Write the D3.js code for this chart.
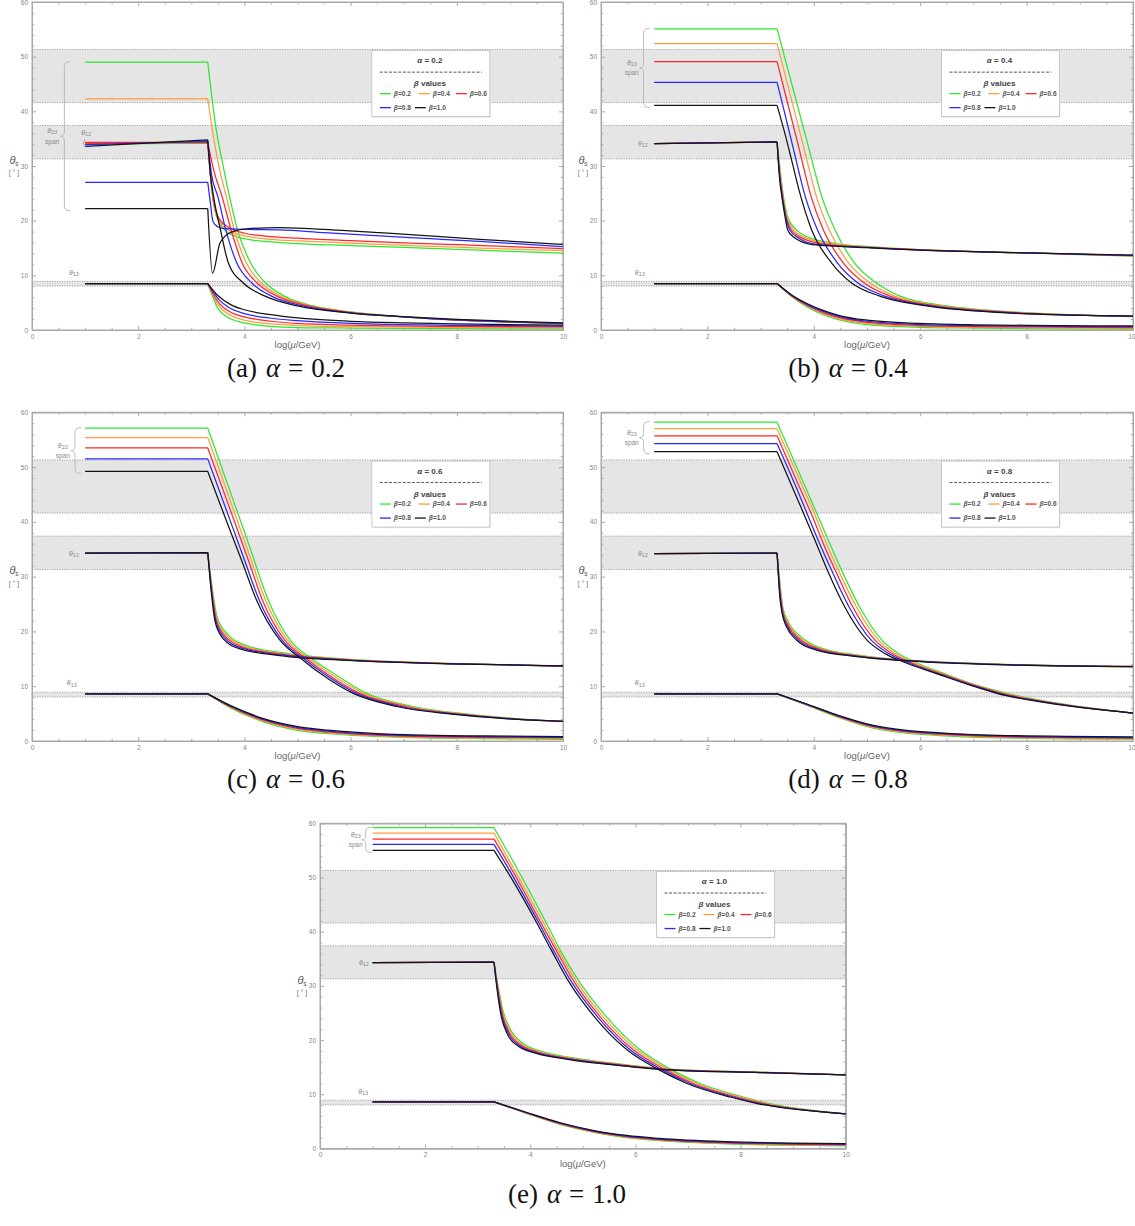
<!DOCTYPE html>
<html>
<head>
<meta charset="utf-8">
<script src="https://cdn.jsdelivr.net/npm/d3@7"></script>
<style>
  body { margin: 0; background: #fff; }
  svg { display: block; }
  text { font-family: "Liberation Sans", Arial, sans-serif; }
</style>
</head>
<body>
<svg id="fig" width="1135" height="1226"></svg>
<script>
// ---------- data ----------
const alphaValues = [0.2, 0.4, 0.6, 0.8, 1.0];
const panelTags = ["(a)", "(b)", "(c)", "(d)", "(e)"];
const betaLabels = ["β=0.2", "β=0.4", "β=0.6", "β=0.8", "β=1.0"];
const xTickValues = [0, 2, 4, 6, 8, 10];
const yTickValues = [0, 10, 20, 30, 40, 50, 60];

// experimental ranges (degrees)
const theta23Band = [41.6, 51.3];
const theta12Band = [31.3, 37.4];
const theta13Band = [8.05, 8.9];

// running angles vs log(mu/GeV); each list is ordered beta = 0.2, 0.4, 0.6, 0.8, 1.0
// alpha = 0.2
const th23_a02 = [
  [[1,49.0],[3.31,49.0],[3.47,36.6],[3.59,30.5],[3.72,24.4],[3.87,18.3],[4.12,12.2],[4.4,8.6],[4.75,6.2],[5.3,4.4],[6,3.3],[7,2.4],[8,1.8],[9,1.45],[10,1.15]],
  [[1,42.3],[3.31,42.3],[3.45,33.5],[3.55,28.6],[3.66,24.4],[3.81,18.3],[4.04,12.2],[4.32,8.6],[4.68,6.2],[5.25,4.4],[6,3.25],[7,2.4],[8,1.8],[9,1.45],[10,1.15]],
  [[1,34.3],[3.31,34.3],[3.42,29.3],[3.58,24.4],[3.75,18.3],[3.96,12.2],[4.24,8.6],[4.61,6.2],[5.2,4.4],[6,3.2],[7,2.4],[8,1.82],[9,1.47],[10,1.18]],
  [[1,27.0],[3.31,27.0],[3.36,23.2],[3.41,19.8],[3.5,18.9],[3.6,18.6],[4.0,18.4],[4.67,18.3],[5.5,17.8],[6.55,17.2],[7.5,16.7],[8.43,16.2],[10,15.25]],
  [[1,22.2],[3.31,22.2],[3.40,10.4],[3.54,15.9],[3.73,17.8],[4.04,18.5],[4.67,18.75],[5.3,18.5],[6.55,17.8],[8.43,16.6],[10,15.65]]
];
const th12_a02 = [
  [[1,34.0],[3.31,34.2],[3.37,27.0],[3.44,22.0],[3.55,19.2],[3.7,17.8],[4.0,16.7],[4.5,16.1],[5,15.8],[6,15.45],[7,15.1],[8,14.75],[9,14.4],[10,14.05]],
  [[1,34.05],[3.31,34.3],[3.37,27.2],[3.44,22.3],[3.55,19.6],[3.7,18.3],[4.0,17.2],[4.5,16.6],[5,16.3],[6,15.9],[7,15.5],[8,15.15],[9,14.8],[10,14.5]],
  [[1,34.2],[3.31,34.3],[3.37,27.4],[3.44,22.6],[3.55,20.0],[3.7,18.8],[4.0,17.7],[4.5,17.1],[5,16.8],[6,16.35],[7,15.95],[8,15.6],[9,15.25],[10,14.9]],
  [[1,33.9],[3.31,34.5],[3.38,28.5],[3.5,24.4],[3.65,18.3],[3.86,12.2],[4.14,8.6],[4.51,6.2],[5.1,4.4],[6,3.15],[7,2.4],[8,1.85],[9,1.5],[10,1.22]],
  [[1,33.6],[3.31,34.8],[3.36,28.5],[3.42,24.4],[3.55,18.3],[3.7,12.2],[3.98,8.6],[4.39,6.2],[5.0,4.4],[6,3.1],[7,2.45],[8,1.95],[9,1.6],[10,1.32]]
];
const th13_a02 = [
  [[1,8.5],[3.31,8.5],[3.5,4.0],[3.75,2.0],[4,1.3],[4.5,0.65],[5,0.45],[6,0.35],[8,0.25],[10,0.2]],
  [[1,8.5],[3.31,8.5],[3.5,4.7],[3.75,2.6],[4,1.8],[4.5,1.1],[5,0.8],[6,0.6],[8,0.45],[10,0.4]],
  [[1,8.5],[3.31,8.5],[3.5,5.2],[3.75,3.2],[4,2.4],[4.5,1.6],[5,1.2],[6,0.9],[8,0.65],[10,0.55]],
  [[1,8.5],[3.31,8.5],[3.5,5.8],[3.75,3.9],[4,3.0],[4.5,2.15],[5,1.7],[6,1.2],[8,0.85],[10,0.72]],
  [[1,8.5],[3.31,8.5],[3.5,6.3],[3.75,4.6],[4,3.7],[4.5,2.8],[5,2.2],[6,1.6],[7,1.3],[8,1.1],[10,0.9]]
];

// alpha = 0.4
const th23_a04 = [
  [[1,55.1],[3.31,55.1],[3.6,44.5],[3.9,33.5],[4.15,24.4],[4.4,18.3],[4.77,12.2],[5.18,8.6],[5.62,6.2],[6.5,4.4],[7.75,3.3],[8.8,2.8],[10,2.45]],
  [[1,52.4],[3.31,52.4],[3.55,43.3],[3.8,33.8],[4.05,24.4],[4.29,18.3],[4.66,12.2],[5.06,8.6],[5.52,6.2],[6.4,4.4],[7.65,3.3],[8.72,2.8],[10,2.47]],
  [[1,49.1],[3.31,49.1],[3.5,41.8],[3.7,34.1],[3.95,24.4],[4.18,18.3],[4.56,12.2],[4.95,8.6],[5.43,6.2],[6.3,4.4],[7.55,3.3],[8.65,2.8],[10,2.5]],
  [[1,45.3],[3.31,45.3],[3.45,39.8],[3.62,33.0],[3.84,24.4],[4.07,18.3],[4.45,12.2],[4.83,8.6],[5.33,6.2],[6.2,4.4],[7.42,3.3],[8.58,2.8],[10,2.52]],
  [[1,41.1],[3.31,41.1],[3.45,36.2],[3.58,31.2],[3.73,25.3],[3.96,18.3],[4.34,12.2],[4.71,8.6],[5.24,6.2],[6.12,4.4],[7.3,3.3],[8.5,2.8],[10,2.55]]
];
const th12_a04 = [
  [[1,34.1],[3.31,34.4],[3.37,29.0],[3.43,24.4],[3.5,21.0],[3.67,18.3],[3.86,17.1],[4.36,15.9],[5.11,15.2],[6,14.7],[8,14.1],[10,13.5]],
  [[1,34.1],[3.31,34.4],[3.37,28.6],[3.42,24.4],[3.48,21.1],[3.62,18.3],[3.81,17.0],[4.3,15.8],[5.1,15.15],[6,14.68],[8,14.1],[10,13.55]],
  [[1,34.1],[3.31,34.4],[3.36,28.3],[3.415,24.4],[3.47,21.1],[3.58,18.3],[3.76,16.9],[4.2,15.7],[5.05,15.1],[6,14.65],[8,14.1],[10,13.6]],
  [[1,34.1],[3.31,34.4],[3.36,28.1],[3.405,24.4],[3.46,21.2],[3.55,18.3],[3.72,16.8],[4.1,15.6],[5,15.1],[6,14.62],[8,14.1],[10,13.65]],
  [[1,34.1],[3.31,34.4],[3.355,27.9],[3.40,24.4],[3.45,21.3],[3.51,18.3],[3.62,17.0],[3.98,15.6],[4.48,15.3],[5,15.05],[6,14.6],[8,14.1],[10,13.7]]
];
const th13_a04 = [
  [[1,8.5],[3.31,8.5],[3.6,6.0],[3.9,4.1],[4.2,2.7],[4.5,1.8],[5,1.0],[6,0.5],[7,0.35],[8,0.25],[10,0.15]],
  [[1,8.5],[3.31,8.5],[3.6,6.1],[3.9,4.25],[4.2,2.9],[4.5,2.0],[5,1.2],[6,0.65],[7,0.48],[8,0.4],[10,0.3]],
  [[1,8.5],[3.31,8.5],[3.6,6.15],[3.9,4.4],[4.2,3.1],[4.5,2.2],[5,1.4],[6,0.82],[7,0.62],[8,0.55],[10,0.45]],
  [[1,8.5],[3.31,8.5],[3.6,6.2],[3.9,4.55],[4.2,3.3],[4.5,2.4],[5,1.6],[6,1.0],[7,0.78],[8,0.7],[10,0.6]],
  [[1,8.5],[3.31,8.5],[3.6,6.3],[3.9,4.7],[4.2,3.5],[4.5,2.6],[5,1.8],[6,1.2],[7,0.95],[8,0.85],[10,0.75]]
];

// alpha = 0.6
const th23_a06 = [
  [[1,57.1],[3.31,57.1],[3.7,46.4],[4.1,35.4],[4.45,25.7],[4.86,18.4],[5.3,14.8],[5.67,12.4],[6.3,8.7],[7.18,6.3],[8.2,4.9],[9.1,4.1],[10,3.6]],
  [[1,55.4],[3.31,55.4],[3.7,44.8],[4.1,33.8],[4.4,25.7],[4.81,18.4],[5.25,14.8],[5.6,12.4],[6.24,8.7],[7.1,6.3],[8.12,4.9],[9.05,4.1],[10,3.6]],
  [[1,53.5],[3.31,53.5],[3.7,43.1],[4.1,32.3],[4.34,25.7],[4.76,18.4],[5.2,14.8],[5.53,12.4],[6.17,8.7],[7.03,6.3],[8.05,4.9],[9.0,4.1],[10,3.6]],
  [[1,51.5],[3.31,51.5],[3.7,41.1],[4.0,33.1],[4.28,25.7],[4.71,18.4],[5.15,14.8],[5.48,12.4],[6.11,8.7],[6.95,6.3],[7.98,4.9],[8.95,4.1],[10,3.6]],
  [[1,49.2],[3.31,49.2],[3.7,39.2],[3.95,32.9],[4.23,25.7],[4.67,18.4],[5.1,14.8],[5.42,12.4],[6.05,8.7],[6.87,6.3],[7.9,4.9],[8.9,4.1],[10,3.6]]
];
const th12_a06 = [
  [[1,34.3],[3.31,34.4],[3.39,28.2],[3.49,22.5],[3.68,19.5],[4.04,17.4],[4.8,16.0],[6.0,14.9],[7.81,14.18],[10,13.62]],
  [[1,34.3],[3.31,34.4],[3.385,28.1],[3.48,22.3],[3.66,19.3],[4.01,17.25],[4.76,15.9],[5.99,14.85],[7.81,14.16],[10,13.64]],
  [[1,34.3],[3.31,34.4],[3.38,28.0],[3.47,22.1],[3.64,19.1],[3.98,17.1],[4.73,15.8],[5.97,14.8],[7.81,14.14],[10,13.66]],
  [[1,34.3],[3.31,34.4],[3.375,27.9],[3.46,21.9],[3.62,18.9],[3.95,16.95],[4.7,15.7],[5.95,14.75],[7.81,14.12],[10,13.68]],
  [[1,34.3],[3.31,34.4],[3.37,27.8],[3.45,21.7],[3.6,18.7],[3.92,16.8],[4.67,15.6],[5.93,14.7],[7.81,14.1],[10,13.7]]
];
const th13_a06 = [
  [[1,8.6],[3.31,8.6],[3.73,6.1],[4.36,3.5],[4.98,2.0],[5.93,1.1],[7.18,0.6],[8.5,0.43],[10,0.3]],
  [[1,8.6],[3.31,8.6],[3.73,6.2],[4.36,3.65],[4.98,2.17],[5.93,1.25],[7.18,0.72],[8.5,0.56],[10,0.43]],
  [[1,8.6],[3.31,8.6],[3.73,6.3],[4.36,3.8],[4.98,2.33],[5.93,1.4],[7.18,0.85],[8.5,0.68],[10,0.55]],
  [[1,8.6],[3.31,8.6],[3.73,6.4],[4.36,3.95],[4.98,2.5],[5.93,1.55],[7.18,0.97],[8.5,0.8],[10,0.68]],
  [[1,8.6],[3.31,8.6],[3.73,6.5],[4.36,4.1],[4.98,2.65],[5.93,1.7],[7.18,1.1],[8.5,0.92],[10,0.8]]
];

// alpha = 0.8
const th23_a08 = [
  [[1,58.2],[3.31,58.2],[3.7,49.5],[4.0,42.8],[4.27,36.7],[4.55,30.6],[4.86,24.5],[5.28,18.4],[5.58,16.0],[5.95,14.2],[6.43,12.4],[7.12,10.0],[7.63,8.7],[8.57,6.9],[10,5.1]],
  [[1,57.0],[3.31,57.0],[3.7,48.4],[4.0,41.8],[4.21,36.7],[4.49,30.6],[4.8,24.5],[5.22,18.4],[5.52,16.0],[5.9,14.2],[6.39,12.4],[7.09,10.0],[7.58,8.7],[8.54,6.9],[10,5.1]],
  [[1,55.7],[3.31,55.7],[3.7,47.0],[4.0,40.4],[4.15,36.7],[4.43,30.6],[4.73,24.5],[5.15,18.4],[5.46,16.0],[5.85,14.2],[6.35,12.4],[7.06,10.0],[7.53,8.7],[8.5,6.9],[10,5.1]],
  [[1,54.3],[3.31,54.3],[3.7,45.6],[4.08,36.7],[4.36,30.6],[4.66,24.5],[5.08,18.4],[5.4,16.0],[5.8,14.2],[6.31,12.4],[7.03,10.0],[7.48,8.7],[8.46,6.9],[10,5.1]],
  [[1,52.8],[3.31,52.8],[3.7,44.0],[4.02,36.7],[4.28,30.6],[4.58,24.5],[5.0,18.4],[5.33,16.0],[5.75,14.2],[6.28,12.4],[7.0,10.0],[7.44,8.7],[8.42,6.9],[10,5.1]]
];
const th12_a08 = [
  [[1,34.2],[3.31,34.3],[3.38,27.3],[3.42,24.3],[3.53,21.6],[3.76,19.0],[4.13,17.0],[4.89,15.6],[6.0,14.62],[7.63,13.98],[10,13.52]],
  [[1,34.2],[3.31,34.3],[3.375,27.1],[3.415,24.1],[3.52,21.4],[3.74,18.85],[4.11,16.9],[4.87,15.55],[6.0,14.59],[7.63,13.96],[10,13.54]],
  [[1,34.2],[3.31,34.3],[3.37,26.9],[3.41,23.9],[3.51,21.2],[3.72,18.7],[4.09,16.8],[4.85,15.5],[6.0,14.56],[7.63,13.94],[10,13.56]],
  [[1,34.2],[3.31,34.3],[3.365,26.7],[3.405,23.7],[3.5,21.0],[3.7,18.55],[4.07,16.7],[4.83,15.45],[6.0,14.53],[7.63,13.92],[10,13.58]],
  [[1,34.2],[3.31,34.3],[3.36,26.5],[3.4,23.5],[3.49,20.8],[3.68,18.4],[4.05,16.6],[4.81,15.4],[6.0,14.5],[7.63,13.9],[10,13.6]]
];
const th13_a08 = [
  [[1,8.6],[3.31,8.6],[3.87,6.55],[4.49,4.2],[5.12,2.35],[5.74,1.45],[6.37,1.0],[7.63,0.55],[10,0.32]],
  [[1,8.6],[3.31,8.6],[3.87,6.6],[4.49,4.3],[5.12,2.48],[5.74,1.58],[6.37,1.13],[7.63,0.66],[10,0.42]],
  [[1,8.6],[3.31,8.6],[3.87,6.65],[4.49,4.4],[5.12,2.6],[5.74,1.7],[6.37,1.25],[7.63,0.77],[10,0.52]],
  [[1,8.6],[3.31,8.6],[3.87,6.7],[4.49,4.5],[5.12,2.72],[5.74,1.82],[6.37,1.37],[7.63,0.88],[10,0.63]],
  [[1,8.6],[3.31,8.6],[3.87,6.75],[4.49,4.6],[5.12,2.85],[5.74,1.95],[6.37,1.5],[7.63,1.0],[10,0.75]]
];

// alpha = 1.0
const th23_a10 = [
  [[1,59.2],[3.31,59.2],[3.77,51.3],[4.31,41.5],[4.57,36.6],[4.95,30.5],[5.45,24.3],[6.09,18.2],[6.69,14.5],[7.23,12.0],[8.05,9.5],[8.55,8.3],[10,6.4]],
  [[1,58.2],[3.31,58.2],[3.73,50.9],[4.26,41.5],[4.53,36.6],[4.9,30.5],[5.39,24.3],[6.03,18.2],[6.63,14.5],[7.17,12.0],[7.99,9.5],[8.49,8.3],[10,6.4]],
  [[1,57.1],[3.31,57.1],[3.7,50.6],[4.21,41.5],[4.49,36.6],[4.85,30.5],[5.33,24.3],[5.96,18.2],[6.57,14.5],[7.1,12.0],[7.92,9.5],[8.43,8.3],[10,6.4]],
  [[1,56.1],[3.31,56.1],[3.66,50.4],[4.17,41.5],[4.44,36.6],[4.8,30.5],[5.28,24.3],[5.9,18.2],[6.51,14.5],[7.04,12.0],[7.86,9.5],[8.37,8.3],[10,6.4]],
  [[1,55.0],[3.31,55.0],[3.62,50.2],[4.13,41.5],[4.4,36.6],[4.75,30.5],[5.22,24.3],[5.84,18.2],[6.45,14.5],[6.98,12.0],[7.8,9.5],[8.32,8.3],[10,6.4]]
];
const th12_a10 = [
  [[1,34.3],[3.31,34.4],[3.38,30.4],[3.49,25.1],[3.62,22.0],[3.86,19.4],[4.18,18.0],[4.82,16.72],[5.58,15.74],[6.6,14.7],[8.37,14.08],[10,13.6]],
  [[1,34.3],[3.31,34.4],[3.375,30.3],[3.48,24.9],[3.605,21.8],[3.84,19.25],[4.16,17.9],[4.8,16.64],[5.56,15.68],[6.6,14.65],[8.37,14.06],[10,13.6]],
  [[1,34.3],[3.31,34.4],[3.37,30.2],[3.47,24.7],[3.59,21.6],[3.82,19.1],[4.14,17.8],[4.78,16.56],[5.54,15.62],[6.6,14.6],[8.37,14.04],[10,13.6]],
  [[1,34.3],[3.31,34.4],[3.365,30.1],[3.46,24.5],[3.575,21.4],[3.8,18.95],[4.12,17.7],[4.76,16.48],[5.52,15.56],[6.6,14.55],[8.37,14.02],[10,13.6]],
  [[1,34.3],[3.31,34.4],[3.36,30.0],[3.45,24.3],[3.56,21.2],[3.78,18.8],[4.1,17.6],[4.74,16.4],[5.5,15.5],[6.6,14.5],[8.37,14.0],[10,13.6]]
];
const th13_a10 = [
  [[1,8.6],[3.31,8.6],[3.95,6.4],[4.57,4.44],[5.19,3.0],[5.83,2.0],[6.46,1.45],[7.73,0.85],[9.0,0.6],[10,0.5]],
  [[1,8.6],[3.31,8.6],[3.95,6.45],[4.57,4.52],[5.19,3.08],[5.83,2.1],[6.46,1.55],[7.73,0.95],[9.0,0.69],[10,0.59]],
  [[1,8.6],[3.31,8.6],[3.95,6.5],[4.57,4.6],[5.19,3.17],[5.83,2.2],[6.46,1.65],[7.73,1.05],[9.0,0.78],[10,0.68]],
  [[1,8.6],[3.31,8.6],[3.95,6.55],[4.57,4.68],[5.19,3.26],[5.83,2.3],[6.46,1.75],[7.73,1.15],[9.0,0.88],[10,0.78]],
  [[1,8.6],[3.31,8.6],[3.95,6.6],[4.57,4.75],[5.19,3.35],[5.83,2.4],[6.46,1.85],[7.73,1.25],[9.0,0.98],[10,0.88]]
];

// ---------- styling & layout ----------
const betaColors = ["#2fe62f", "#ff9c3f", "#ff2727", "#2727ff", "#151515"];
const frameColor = "#a9a9a9";
const tickTextColor = "#858585";
const noteColor = "#8a8a8a";
const figWidth = 1135;

const panels = [
  { alpha: alphaValues[0], tag: panelTags[0], curves: [th23_a02, th12_a02, th13_a02],
    box: { x0: 32, x1: 563, yTop: 2, yBot: 330 }, caption: { x: 286, y: 377 },
    note: { braceX: 0.61, t23X: 0.38, t12: { x: 1.02, y: 35.7, anchor: "middle" }, t13X: 0.79, smallBrace: true } },
  { alpha: alphaValues[1], tag: panelTags[1], curves: [th23_a04, th12_a04, th13_a04],
    box: { x0: 601, x1: 1133, yTop: 2, yBot: 330 }, caption: { x: 848, y: 377 },
    note: { braceX: 0.80, t23X: 0.58, t12: { x: 0.88, anchor: "end" }, t13X: 0.73 } },
  { alpha: alphaValues[2], tag: panelTags[2], curves: [th23_a06, th12_a06, th13_a06],
    box: { x0: 32, x1: 563, yTop: 412.3, yBot: 741 }, caption: { x: 286, y: 788 },
    note: { braceX: 0.81, t23X: 0.58, t12: { x: 0.885, anchor: "end" }, t13X: 0.75 } },
  { alpha: alphaValues[3], tag: panelTags[3], curves: [th23_a08, th12_a08, th13_a08],
    box: { x0: 601, x1: 1133, yTop: 412.3, yBot: 741 }, caption: { x: 848, y: 788 },
    note: { braceX: 0.80, t23X: 0.58, t12: { x: 0.88, anchor: "end" }, t13X: 0.73 } },
  { alpha: alphaValues[4], tag: panelTags[4], curves: [th23_a10, th12_a10, th13_a10],
    box: { x0: 320, x1: 845.7, yTop: 823.3, yBot: 1148.5 }, caption: { x: 567, y: 1203 },
    note: { braceX: 0.87, t23X: 0.68, t12: { x: 0.93, anchor: "end" }, t13X: 0.82 } }
];

const svg = d3.select("#fig");

// flat segment is straight; the running part after the threshold is smooth
function curvePath(pts, xs, ys) {
  const straight = d3.line().x(d => xs(d[0])).y(d => ys(d[1]));
  const smooth = d3.line().x(d => xs(d[0])).y(d => ys(d[1])).curve(d3.curveMonotoneX);
  return straight(pts.slice(0, 2)) + smooth(pts.slice(1));
}

// vertical curly brace; tip points left
function bracePath(xs, yTop, yBot, hook, tip) {
  const ym = (yTop + yBot) / 2, r = Math.min(5, (yBot - yTop) / 6);
  return `M${xs + hook},${yTop} Q${xs},${yTop} ${xs},${yTop + r} L${xs},${ym - r} ` +
         `Q${xs},${ym} ${xs - tip},${ym} Q${xs},${ym} ${xs},${ym + r} ` +
         `L${xs},${yBot - r} Q${xs},${yBot} ${xs + hook},${yBot}`;
}

function drawPanel(p) {
  const { x0, x1, yTop, yBot } = p.box;
  const x = d3.scaleLinear().domain([0, 10]).range([x0, x1]);
  const y = d3.scaleLinear().domain([0, 60]).range([yBot, yTop]);
  const g = svg.append("g");

  // experimental bands
  [theta23Band, theta12Band, theta13Band].forEach(b => {
    g.append("rect").attr("x", x0).attr("width", x1 - x0)
      .attr("y", y(b[1])).attr("height", y(b[0]) - y(b[1]))
      .attr("fill", "#e5e5e5");
    b.forEach(v => g.append("line")
      .attr("x1", x0).attr("x2", x1).attr("y1", y(v)).attr("y2", y(v))
      .attr("stroke", "#9a9a9a").attr("stroke-width", 0.9).attr("stroke-dasharray", "1.2,1.3"));
  });

  // frame ticks on all sides
  const xMinor = d3.range(0, 10.001, 0.5).filter(v => !xTickValues.includes(v));
  const yMinor = d3.range(0, 60.001, 2).filter(v => !yTickValues.includes(v));
  const styleAxis = sel => {
    sel.selectAll("path.domain").attr("stroke", frameColor);
    sel.selectAll(".tick line").attr("stroke", frameColor);
    sel.selectAll(".tick text").attr("fill", tickTextColor).attr("font-size", 6.5);
  };
  const axes = [
    { gen: d3.axisBottom(x), t: `translate(0,${yBot})`, labels: true, major: xTickValues, minor: xMinor },
    { gen: d3.axisTop(x), t: `translate(0,${yTop})`, labels: false, major: xTickValues, minor: xMinor },
    { gen: d3.axisLeft(y), t: `translate(${x0},0)`, labels: true, major: yTickValues, minor: yMinor },
    { gen: d3.axisRight(y), t: `translate(${x1},0)`, labels: false, major: yTickValues, minor: yMinor }
  ];
  axes.forEach((a, ai) => {
    const major = a.gen.tickValues(a.major).tickSizeInner(-4).tickSizeOuter(0).tickPadding(4)
      .tickFormat(a.labels ? d3.format("d") : "");
    const ag = g.append("g").attr("transform", a.t).call(major).call(styleAxis);
    if (ai === 0 && x1 + 5 > figWidth) {
      // keep the last label inside the page
      ag.selectAll(".tick text").filter(d => d === 10).attr("text-anchor", "end").attr("dx", 2);
    }
    const minorGen = a.gen.tickValues(a.minor).tickSizeInner(-2.2).tickFormat("");
    g.append("g").attr("transform", a.t).call(minorGen).call(styleAxis);
  });
  g.append("rect").attr("x", x0).attr("y", yTop).attr("width", x1 - x0).attr("height", yBot - yTop)
    .attr("fill", "none").attr("stroke", frameColor).attr("stroke-width", 1);

  // curves, beta by beta so beta = 1.0 ends up on top
  betaColors.forEach((c, bi) => {
    p.curves.forEach(set => {
      g.append("path").attr("d", curvePath(set[bi], x, y))
        .attr("fill", "none").attr("stroke", c).attr("stroke-width", 1.25)
        .attr("stroke-linejoin", "round");
    });
  });

  // annotations
  const n = p.note;
  const flat23 = p.curves[0].map(c => c[0][1]);
  const top23 = y(d3.max(flat23) + 0.1), bot23 = y(d3.min(flat23) - 0.4);
  const bx = x(n.braceX);
  g.append("path").attr("d", bracePath(bx, top23, bot23, 6, 4))
    .attr("fill", "none").attr("stroke", "#b4b4b4").attr("stroke-width", 0.9);
  const tipY = (top23 + bot23) / 2;
  const sub = (sel, main, idx) => {
    sel.append("tspan").attr("font-style", "italic").text(main);
    sel.append("tspan").attr("font-size", 5.5).attr("dy", 1.2).text(idx);
  };
  const t23 = g.append("text").attr("x", x(n.t23X)).attr("y", tipY - 3)
    .attr("text-anchor", "middle").attr("font-size", 7).attr("fill", noteColor);
  sub(t23, "θ", "23");
  g.append("text").attr("x", x(n.t23X)).attr("y", tipY + 7.5)
    .attr("text-anchor", "middle").attr("font-size", 6.5).attr("fill", noteColor).text("span");

  const flat12 = p.curves[1][4][0][1];
  const t12y = n.t12.y !== undefined ? y(n.t12.y) : y(flat12) + 2.5;
  const t12 = g.append("text").attr("x", x(n.t12.x)).attr("y", t12y)
    .attr("text-anchor", n.t12.anchor).attr("font-size", 7).attr("fill", noteColor);
  sub(t12, "θ", "12");
  if (n.smallBrace) {
    const lo = y(d3.min(p.curves[1], c => c[0][1]) - 0.1), hi = y(d3.max(p.curves[1], c => c[0][1]) + 0.6);
    g.append("path").attr("d", bracePath(x(0.98), hi, lo, 1.5, 1.2))
      .attr("fill", "none").attr("stroke", "#a0a0a0").attr("stroke-width", 0.8);
  }
  const t13 = g.append("text").attr("x", x(n.t13X)).attr("y", y(10.5) + 2)
    .attr("text-anchor", "middle").attr("font-size", 7).attr("fill", noteColor);
  sub(t13, "θ", "13");

  // axis titles
  const yl = g.append("text").attr("x", x0 - 18).attr("y", y(30.4))
    .attr("text-anchor", "middle").attr("font-size", 11).attr("fill", "#555");
  yl.append("tspan").attr("font-style", "italic").text("θ");
  yl.append("tspan").attr("font-size", 6.5).attr("dy", 2).text("s");
  g.append("text").attr("x", x0 - 18).attr("y", y(28.3))
    .attr("text-anchor", "middle").attr("font-size", 7).attr("fill", "#777").text("[ ° ]");

  const xl = g.append("text").attr("x", (x0 + x1) / 2).attr("y", yBot + 18)
    .attr("text-anchor", "middle").attr("font-size", 9.5).attr("fill", "#666");
  xl.append("tspan").text("log(");
  xl.append("tspan").attr("font-style", "italic").text("μ");
  xl.append("tspan").text("/GeV)");

  // legend
  const lx = x(6.4), ly = y(51.1), lw = 118, lh = 66;
  const lg = g.append("g").attr("transform", `translate(${lx},${ly})`);
  lg.append("rect").attr("x", 1).attr("y", 1).attr("width", lw).attr("height", lh)
    .attr("fill", "#e9e9e9");
  lg.append("rect").attr("width", lw).attr("height", lh)
    .attr("fill", "#fff").attr("stroke", "#bdbdbd").attr("stroke-width", 0.8);
  const title = lg.append("text").attr("x", lw / 2 - 1).attr("y", 12.5).attr("text-anchor", "middle")
    .attr("font-size", 8).attr("font-weight", "bold").attr("fill", "#444");
  title.append("tspan").attr("font-style", "italic").text("α");
  title.append("tspan").text(" = " + d3.format(".1f")(p.alpha));
  lg.append("line").attr("x1", 8).attr("x2", lw - 8).attr("y1", 21.5).attr("y2", 21.5)
    .attr("stroke", "#444").attr("stroke-width", 0.9).attr("stroke-dasharray", "3,1.6");
  const bt = lg.append("text").attr("x", lw / 2 - 1).attr("y", 35.5).attr("text-anchor", "middle")
    .attr("font-size", 8).attr("font-weight", "bold").attr("fill", "#444");
  bt.append("tspan").attr("font-style", "italic").text("β");
  bt.append("tspan").text(" values");
  const slots = [[8, 43], [47, 43], [84, 43], [8, 57], [43, 57]];
  betaLabels.forEach((lab, i) => {
    const [sx, sy] = slots[i];
    lg.append("line").attr("x1", sx).attr("x2", sx + 11).attr("y1", sy).attr("y2", sy)
      .attr("stroke", betaColors[i]).attr("stroke-width", 1.3);
    const t = lg.append("text").attr("x", sx + 14).attr("y", sy + 2.4)
      .attr("font-size", 6.6).attr("font-weight", "bold").attr("fill", "#555");
    t.append("tspan").attr("font-style", "italic").text(lab.slice(0, 1));
    t.append("tspan").text(lab.slice(1));
  });

  // caption, with math spacing around "="
  const cap = svg.append("text").attr("x", p.caption.x).attr("y", p.caption.y)
    .attr("text-anchor", "middle").attr("font-size", 27)
    .style("font-family", "'Liberation Serif', 'Times New Roman', serif").attr("fill", "#111");
  cap.append("tspan").text(p.tag);
  cap.append("tspan").attr("dx", 9).attr("font-style", "italic").text("α");
  cap.append("tspan").attr("dx", 8).text("=");
  cap.append("tspan").attr("dx", 8).text(d3.format(".1f")(p.alpha));
}

panels.forEach(drawPanel);
</script>
</body>
</html>
